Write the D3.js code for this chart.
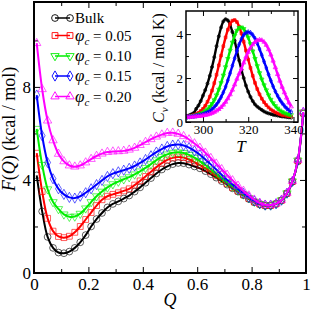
<!DOCTYPE html>
<html>
<head>
<meta charset="utf-8">
<script src="https://cdn.jsdelivr.net/npm/d3@7"></script>
<style>
  body { margin: 0; background: #fff; }
  svg { display: block; }
  svg text { font-family: "Liberation Serif", "DejaVu Serif", serif; }
</style>
</head>
<body>
<div id="chart"></div>
<script>
// ---- main panel data: free energy F(Q) ----
const qValues = [0.01, 0.03, 0.05, 0.07, 0.09, 0.11, 0.13, 0.15, 0.17, 0.19,
  0.21, 0.23, 0.25, 0.27, 0.29, 0.31, 0.33, 0.35, 0.37, 0.39,
  0.41, 0.43, 0.45, 0.47, 0.49, 0.51, 0.53, 0.55, 0.57, 0.59,
  0.61, 0.63, 0.65, 0.67, 0.69, 0.71, 0.73, 0.75, 0.77, 0.79,
  0.81, 0.83, 0.85, 0.87, 0.89, 0.91, 0.93, 0.95, 0.97, 0.99];

const fBulk = [4.2, 2.65, 1.55, 1.08, 0.88, 0.85, 0.92, 1.08, 1.32, 1.63,
  2.0, 2.32, 2.58, 2.82, 2.97, 3.08, 3.2, 3.33, 3.5, 3.68,
  3.88, 4.08, 4.28, 4.45, 4.58, 4.68, 4.73, 4.72, 4.66, 4.58,
  4.5, 4.38, 4.25, 4.1, 3.95, 3.8, 3.64, 3.5, 3.35, 3.18,
  3.04, 2.95, 2.89, 2.9, 2.97, 3.12, 3.42, 3.92, 4.8, 6.85];
const f005 = [5.15, 3.5, 2.35, 1.8, 1.57, 1.52, 1.58, 1.75, 2.0, 2.3,
  2.6, 2.9, 3.15, 3.3, 3.38, 3.45, 3.53, 3.62, 3.78, 3.96,
  4.15, 4.35, 4.55, 4.72, 4.86, 4.95, 4.99, 4.96, 4.88, 4.77,
  4.64, 4.5, 4.35, 4.18, 4.01, 3.84, 3.67, 3.52, 3.36, 3.2,
  3.05, 2.96, 2.9, 2.9, 2.97, 3.12, 3.42, 3.93, 4.82, 6.88];
const f010 = [6.2, 4.65, 3.6, 3.05, 2.75, 2.52, 2.42, 2.43, 2.55, 2.78,
  3.05, 3.3, 3.5, 3.68, 3.82, 3.93, 4.03, 4.12, 4.24, 4.37,
  4.52, 4.68, 4.85, 5.0, 5.1, 5.17, 5.19, 5.16, 5.08, 4.96,
  4.81, 4.64, 4.46, 4.27, 4.08, 3.9, 3.72, 3.55, 3.38, 3.22,
  3.07, 2.97, 2.91, 2.91, 2.98, 3.13, 3.43, 3.94, 4.84, 6.9];
const f015 = [7.65, 5.9, 4.75, 4.05, 3.62, 3.38, 3.25, 3.22, 3.3, 3.45,
  3.62, 3.8, 3.98, 4.15, 4.27, 4.35, 4.42, 4.5, 4.6, 4.73,
  4.88, 5.04, 5.2, 5.33, 5.44, 5.5, 5.52, 5.48, 5.39, 5.25,
  5.08, 4.88, 4.67, 4.45, 4.22, 4.0, 3.8, 3.6, 3.42, 3.25,
  3.1, 2.98, 2.92, 2.92, 2.98, 3.13, 3.43, 3.94, 4.84, 6.9];
const f020 = [9.88, 7.9, 6.55, 5.7, 5.12, 4.8, 4.62, 4.57, 4.62, 4.75,
  4.9, 5.03, 5.13, 5.2, 5.22, 5.23, 5.25, 5.3, 5.38, 5.5,
  5.63, 5.75, 5.86, 5.95, 6.02, 6.03, 5.98, 5.88, 5.74, 5.57,
  5.38, 5.17, 4.94, 4.7, 4.46, 4.22, 3.98, 3.75, 3.53, 3.33,
  3.15, 3.01, 2.93, 2.92, 2.98, 3.13, 3.44, 3.95, 4.86, 6.92];

// ---- inset data: heat capacity Cv(T) ----
const tValues = [293, 294, 295, 296, 297, 298, 299, 300, 301, 302,
  303, 304, 305, 306, 307, 308, 309, 310, 311, 312,
  313, 314, 315, 316, 317, 318, 319, 320, 321, 322,
  323, 324, 325, 326, 327, 328, 329, 330, 331, 332,
  333, 334, 335, 336, 337, 338, 339];

const cvBulk = [0.28, 0.31, 0.36, 0.42, 0.6, 0.75, 0.95, 1.2, 1.45, 1.75,
  2.1, 2.5, 2.95, 3.45, 3.9, 4.3, 4.58, 4.68, 4.62, 4.42,
  4.1, 3.7, 3.25, 2.8, 2.38, 2.0, 1.66, 1.38, 1.14, 0.95,
  0.8, 0.7, 0.62, 0.55, 0.48, 0.43, 0.39, 0.36, 0.33, 0.31,
  0.29, 0.27, 0.25, 0.24, 0.22, 0.21, 0.2];
const cv005 = [0.25, 0.27, 0.29, 0.32, 0.36, 0.42, 0.5, 0.6, 0.74, 0.92,
  1.15, 1.43, 1.77, 2.15, 2.58, 3.02, 3.45, 3.85, 4.2, 4.46,
  4.61, 4.64, 4.55, 4.34, 4.03, 3.65, 3.25, 2.85, 2.46, 2.1,
  1.78, 1.5, 1.26, 1.06, 0.9, 0.77, 0.66, 0.57, 0.5, 0.44,
  0.39, 0.35, 0.32, 0.3, 0.28, 0.26, 0.25];
const cv010 = [0.24, 0.25, 0.27, 0.29, 0.31, 0.34, 0.38, 0.43, 0.5, 0.58,
  0.69, 0.83, 1.0, 1.22, 1.48, 1.78, 2.12, 2.5, 2.88, 3.26,
  3.62, 3.93, 4.16, 4.29, 4.31, 4.24, 4.08, 3.84, 3.55, 3.22,
  2.88, 2.55, 2.23, 1.94, 1.68, 1.45, 1.22, 1.02, 0.86, 0.73,
  0.62, 0.53, 0.46, 0.41, 0.37, 0.34, 0.32];
const cv015 = [0.23, 0.24, 0.25, 0.26, 0.28, 0.3, 0.32, 0.35, 0.39, 0.44,
  0.5, 0.58, 0.68, 0.8, 0.95, 1.13, 1.35, 1.6, 1.9, 2.22,
  2.56, 2.9, 3.23, 3.53, 3.78, 3.96, 4.06, 4.09, 4.06, 3.96,
  3.8, 3.58, 3.32, 3.04, 2.75, 2.46, 2.16, 1.88, 1.62, 1.39,
  1.19, 1.01, 0.86, 0.73, 0.62, 0.53, 0.46];
const cv020 = [0.22, 0.22, 0.23, 0.24, 0.25, 0.26, 0.27, 0.29, 0.31, 0.33,
  0.36, 0.4, 0.45, 0.51, 0.58, 0.67, 0.78, 0.91, 1.07, 1.25,
  1.46, 1.7, 1.96, 2.2, 2.42, 2.7, 2.96, 3.18, 3.37, 3.52,
  3.64, 3.71, 3.74, 3.72, 3.64, 3.5, 3.3, 3.06, 2.78, 2.48,
  2.17, 1.87, 1.59, 1.34, 1.1, 0.88, 0.7];

const seriesNames = ["Bulk", "0.05", "0.10", "0.15", "0.20"];
const colors = ["#000000", "#ff0000", "#00ee00", "#0000ff", "#ff00ff"];

const qTicks = [0, 0.2, 0.4, 0.6, 0.8, 1];
const qMinor = [0.1, 0.3, 0.5, 0.7, 0.9];
const fTicks = [0, 4, 8];
const fMinor = [2, 6, 10];
const tTicks = [300, 320, 340];
const tMinor = [310, 330];
const cvTicks = [0, 2, 4];
const cvMinor = [1, 3];

const width = 311, height = 313;
const serif = "Liberation Serif, DejaVu Serif, serif";

const fSeries = [fBulk, f005, f010, f015, f020];
const cvSeries = [cvBulk, cv005, cv010, cv015, cv020];

const symbols = [
  d3.symbol().type(d3.symbolCircle).size(36),
  d3.symbol().type(d3.symbolSquare).size(34),
  d3.symbol().type(d3.symbolTriangle).size(30),
  d3.symbol().type(d3.symbolDiamond).size(30),
  d3.symbol().type(d3.symbolTriangle).size(30)
];
const rotations = [0, 0, 180, 0, 0];

const svg = d3.select("#chart")
  .append("svg")
  .attr("width", width)
  .attr("height", height)
  .attr("font-family", serif);

// main scales
const x = d3.scaleLinear().domain([0, 1]).range([34, 306]);
const y = d3.scaleLinear().domain([0, 11.65]).range([273, 2]);

const defs = svg.append("defs");
defs.append("clipPath")
  .attr("id", "clipMain")
  .append("rect")
  .attr("x", 34).attr("y", 2).attr("width", 272).attr("height", 271);

function drawAxes(g, xs, ys, major, minor, yMajor, yMinor, big, small, fontSize, pad) {
  const [x0, x1] = xs.range();
  const [y0, y1] = ys.range();
  g.append("g").attr("transform", `translate(0,${y0})`)
    .call(d3.axisBottom(xs).tickValues(major).tickSize(-big).tickPadding(pad).tickFormat(d => d));
  g.append("g").attr("transform", `translate(0,${y0})`)
    .call(d3.axisBottom(xs).tickValues(minor).tickSize(-small).tickFormat(""));
  g.append("g").attr("transform", `translate(0,${y1})`)
    .call(d3.axisTop(xs).tickValues(major).tickSize(-big).tickFormat(""));
  g.append("g").attr("transform", `translate(0,${y1})`)
    .call(d3.axisTop(xs).tickValues(minor).tickSize(-small).tickFormat(""));
  g.append("g").attr("transform", `translate(${x0},0)`)
    .call(d3.axisLeft(ys).tickValues(yMajor).tickSize(-big).tickPadding(3).tickFormat(d => d));
  g.append("g").attr("transform", `translate(${x0},0)`)
    .call(d3.axisLeft(ys).tickValues(yMinor).tickSize(-small).tickFormat(""));
  g.append("g").attr("transform", `translate(${x1},0)`)
    .call(d3.axisRight(ys).tickValues(yMajor).tickSize(-big).tickFormat(""));
  g.append("g").attr("transform", `translate(${x1},0)`)
    .call(d3.axisRight(ys).tickValues(yMinor).tickSize(-small).tickFormat(""));
  g.selectAll(".domain").remove();
  g.selectAll("g").attr("font-family", serif);
  g.selectAll(".tick line").attr("stroke", "#000").attr("stroke-width", 1);
  g.selectAll(".tick text")
    .attr("font-family", serif)
    .attr("font-size", fontSize)
    .attr("fill", "#000");
}

// ---- main panel ----
const main = svg.append("g");
drawAxes(main, x, y, qTicks, qMinor, fTicks, fMinor, 6, 4, 17, 5);

const lineMain = d3.line()
  .x((d, i) => x(qValues[i]))
  .y(d => y(d))
  .curve(d3.curveCatmullRom);

const curves = main.append("g").attr("clip-path", "url(#clipMain)");
fSeries.forEach((vals, k) => {
  const g = curves.append("g");
  g.append("path")
    .datum(vals)
    .attr("fill", "none")
    .attr("stroke", colors[k])
    .attr("stroke-width", 2)
    .attr("d", lineMain);
  g.selectAll("path.mk")
    .data(vals)
    .join("path")
    .attr("class", "mk")
    .attr("d", symbols[k])
    .attr("transform", (d, i) => `translate(${x(qValues[i])},${y(d)}) rotate(${rotations[k]})`)
    .attr("fill", "none")
    .attr("stroke", colors[k])
    .attr("stroke-opacity", 0.7)
    .attr("stroke-width", 0.9);
});

main.append("rect")
  .attr("x", 34).attr("y", 2).attr("width", 272).attr("height", 271)
  .attr("fill", "none").attr("stroke", "#000").attr("stroke-width", 2);

// axis titles
main.append("text")
  .attr("x", 170).attr("y", 306)
  .attr("text-anchor", "middle")
  .attr("font-family", serif)
  .attr("font-size", 18)
  .attr("font-style", "italic")
  .text("Q");

const yTitle = main.append("text")
  .attr("transform", "translate(15,129) rotate(-90)")
  .attr("text-anchor", "middle")
  .attr("font-family", serif)
  .attr("font-size", 18);
yTitle.append("tspan").attr("font-style", "italic").text("F");
yTitle.append("tspan").text("(");
yTitle.append("tspan").attr("font-style", "italic").text("Q");
yTitle.append("tspan").text(") (kcal / mol)");

// ---- legend ----
const legendY = [18, 35.5, 56, 76, 96.5];
const legend = main.append("g");
seriesNames.forEach((name, k) => {
  const g = legend.append("g").attr("transform", `translate(0,${legendY[k]})`);
  g.append("line")
    .attr("x1", 55).attr("x2", 70)
    .attr("stroke", colors[k]).attr("stroke-width", 1.5);
  [55, 70].forEach(px => {
    g.append("path")
      .attr("d", symbols[k])
      .attr("transform", `translate(${px},0) rotate(${rotations[k]})`)
      .attr("fill", "none")
      .attr("stroke", colors[k])
      .attr("stroke-width", 0.9);
  });
  const t = g.append("text")
    .attr("x", 75).attr("y", 5)
    .attr("font-family", serif)
    .attr("font-size", 15);
  if (k === 0) {
    t.text(name);
  } else {
    t.append("tspan").attr("font-style", "italic").attr("font-size", 17).text("φ");
    t.append("tspan").attr("font-style", "italic").attr("font-size", 11).attr("dy", 4).text("c");
    t.append("tspan").attr("dy", -4).text(" = " + name);
  }
});

// ---- inset ----
const xi = d3.scaleLinear().domain([292.5, 342]).range([186, 298]);
const yi = d3.scaleLinear().domain([0, 5.05]).range([122, 11]);

const inset = svg.append("g");
inset.append("rect")
  .attr("x", 186).attr("y", 11).attr("width", 112).attr("height", 111)
  .attr("fill", "#fff");

defs.append("clipPath")
  .attr("id", "clipInset")
  .append("rect")
  .attr("x", 186).attr("y", 11).attr("width", 112).attr("height", 111);

drawAxes(inset, xi, yi, tTicks, tMinor, cvTicks, cvMinor, 5, 3, 13, 3);

const lineInset = d3.line()
  .x((d, i) => xi(tValues[i]))
  .y(d => yi(d))
  .curve(d3.curveCatmullRom);

const insetCurves = inset.append("g").attr("clip-path", "url(#clipInset)");
const smallSymbols = [
  d3.symbol().type(d3.symbolCircle).size(7),
  d3.symbol().type(d3.symbolSquare).size(7),
  d3.symbol().type(d3.symbolTriangle).size(8),
  d3.symbol().type(d3.symbolDiamond).size(7),
  d3.symbol().type(d3.symbolTriangle).size(8)
];
cvSeries.forEach((vals, k) => {
  const g = insetCurves.append("g");
  g.append("path")
    .datum(vals)
    .attr("fill", "none")
    .attr("stroke", colors[k])
    .attr("stroke-width", 2.4)
    .attr("d", lineInset);
  g.selectAll("path.mk")
    .data(vals)
    .join("path")
    .attr("class", "mk")
    .attr("d", smallSymbols[k])
    .attr("transform", (d, i) => `translate(${xi(tValues[i])},${yi(d)}) rotate(${rotations[k]})`)
    .attr("fill", "none")
    .attr("stroke", colors[k])
    .attr("stroke-width", 0.8);
});

inset.append("rect")
  .attr("x", 186).attr("y", 11).attr("width", 112).attr("height", 111)
  .attr("fill", "none").attr("stroke", "#000").attr("stroke-width", 1.5);

inset.append("text")
  .attr("x", 241).attr("y", 152)
  .attr("text-anchor", "middle")
  .attr("font-family", serif)
  .attr("font-size", 17)
  .attr("font-style", "italic")
  .text("T");

const cvTitle = inset.append("text")
  .attr("transform", "translate(164,68) rotate(-90)")
  .attr("text-anchor", "middle")
  .attr("font-family", serif)
  .attr("font-size", 16);
cvTitle.append("tspan").attr("font-style", "italic").text("C");
cvTitle.append("tspan").attr("font-style", "italic").attr("font-size", 11).attr("dy", 4).text("v");
cvTitle.append("tspan").attr("dy", -4).text(" (kcal / mol K)");
</script>
</body>
</html>
